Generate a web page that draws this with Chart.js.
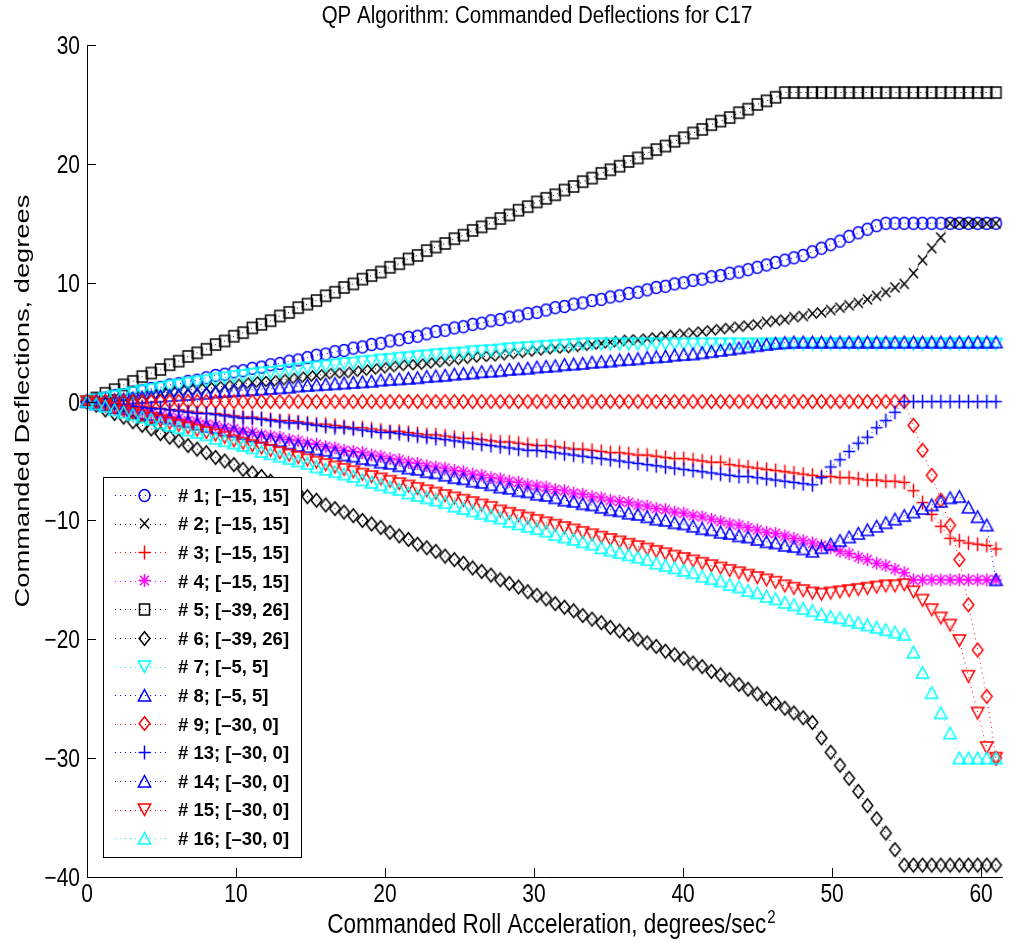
<!DOCTYPE html>
<html>
<head>
<meta charset="utf-8">
<title>QP Algorithm: Commanded Deflections for C17</title>
<script src="https://cdn.jsdelivr.net/npm/chart.js@4/dist/chart.umd.min.js"></script>
<style>
  html, body { margin: 0; padding: 0; background: #fff; }
  #wrap { width: 1009px; height: 943px; }
</style>
</head>
<body>
<div id="wrap"><canvas id="chart" width="1009" height="943"></canvas></div>
<script>
// commanded roll acceleration, degrees/sec^2
const rollAccel = [
  0, 0.62, 1.23, 1.85, 2.46, 3.08, 3.70, 4.31, 4.93, 5.55,
  6.16, 6.78, 7.39, 8.01, 8.63, 9.24, 9.86, 10.47, 11.09, 11.71,
  12.32, 12.94, 13.56, 14.17, 14.79, 15.40, 16.02, 16.64, 17.25, 17.87,
  18.48, 19.10, 19.72, 20.33, 20.95, 21.57, 22.18, 22.80, 23.41, 24.03,
  24.65, 25.26, 25.88, 26.49, 27.11, 27.73, 28.34, 28.96, 29.58, 30.19,
  30.81, 31.42, 32.04, 32.66, 33.27, 33.89, 34.51, 35.12, 35.74, 36.35,
  36.97, 37.59, 38.20, 38.82, 39.43, 40.05, 40.67, 41.28, 41.90, 42.52,
  43.13, 43.75, 44.36, 44.98, 45.60, 46.21, 46.83, 47.44, 48.06, 48.68,
  49.29, 49.91, 50.53, 51.14, 51.76, 52.37, 52.99, 53.61, 54.22, 54.84,
  55.46, 56.07, 56.69, 57.30, 57.92, 58.54, 59.15, 59.77, 60.38, 61.00
];

// commanded deflections, degrees (one list per effector)
const eff1 = [
  0, 0.2, 0.3, 0.5, 0.6, 0.8, 0.9, 1.1, 1.2, 1.4,
  1.5, 1.7, 1.8, 2.0, 2.2, 2.3, 2.5, 2.6, 2.8, 2.9,
  3.1, 3.2, 3.4, 3.5, 3.7, 3.9, 4.0, 4.2, 4.3, 4.5,
  4.6, 4.8, 4.9, 5.1, 5.2, 5.4, 5.5, 5.7, 5.9, 6.0,
  6.2, 6.3, 6.5, 6.6, 6.8, 6.9, 7.1, 7.2, 7.4, 7.5,
  7.7, 7.9, 8.0, 8.2, 8.3, 8.5, 8.6, 8.8, 8.9, 9.1,
  9.2, 9.4, 9.6, 9.7, 9.9, 10.0, 10.2, 10.3, 10.5, 10.6,
  10.8, 10.9, 11.1, 11.3, 11.5, 11.7, 11.9, 12.1, 12.3, 12.6,
  12.9, 13.2, 13.5, 13.9, 14.2, 14.5, 14.8, 15, 15, 15,
  15, 15, 15, 15, 15, 15, 15, 15, 15, 15
];
const eff2 = [
  0, 0.1, 0.2, 0.3, 0.3, 0.4, 0.5, 0.6, 0.7, 0.8,
  0.9, 1.0, 1.0, 1.1, 1.2, 1.3, 1.4, 1.5, 1.6, 1.7,
  1.7, 1.8, 1.9, 2.0, 2.1, 2.2, 2.3, 2.4, 2.4, 2.5,
  2.6, 2.7, 2.8, 2.9, 3.0, 3.1, 3.1, 3.2, 3.3, 3.4,
  3.5, 3.6, 3.7, 3.8, 3.8, 3.9, 4.0, 4.1, 4.2, 4.3,
  4.4, 4.5, 4.5, 4.6, 4.7, 4.8, 4.9, 5.0, 5.1, 5.2,
  5.2, 5.3, 5.4, 5.5, 5.6, 5.7, 5.8, 5.9, 6.0, 6.1,
  6.2, 6.3, 6.4, 6.5, 6.7, 6.8, 6.9, 7.1, 7.2, 7.4,
  7.5, 7.7, 7.9, 8.1, 8.3, 8.6, 8.9, 9.2, 9.6, 9.9,
  10.8, 11.9, 12.9, 13.8, 15, 15, 15, 15, 15, 15
];
const eff3 = [
  0, -0.1, -0.1, -0.2, -0.3, -0.4, -0.4, -0.5, -0.6, -0.7,
  -0.7, -0.8, -0.9, -1.0, -1.0, -1.1, -1.2, -1.3, -1.3, -1.4,
  -1.5, -1.6, -1.6, -1.7, -1.8, -1.9, -1.9, -2.0, -2.1, -2.2,
  -2.2, -2.3, -2.4, -2.5, -2.5, -2.6, -2.7, -2.8, -2.8, -2.9,
  -3.0, -3.1, -3.1, -3.2, -3.3, -3.4, -3.4, -3.5, -3.6, -3.7,
  -3.7, -3.8, -3.9, -4.0, -4.0, -4.1, -4.2, -4.3, -4.3, -4.4,
  -4.5, -4.5, -4.6, -4.7, -4.8, -4.8, -4.9, -5.0, -5.1, -5.1,
  -5.3, -5.4, -5.5, -5.6, -5.7, -5.8, -5.9, -6.0, -6.1, -6.2,
  -6.3, -6.3, -6.4, -6.4, -6.5, -6.6, -6.6, -6.7, -6.7, -6.8,
  -7.5, -8.5, -9.5, -10.5, -11.5, -11.7, -11.9, -12.0, -12.1, -12.4
];
const eff4 = [
  0, -0.1, -0.3, -0.4, -0.6, -0.7, -0.9, -1.0, -1.2, -1.3,
  -1.4, -1.6, -1.7, -1.9, -2.0, -2.2, -2.3, -2.5, -2.6, -2.8,
  -2.9, -3.0, -3.2, -3.3, -3.5, -3.6, -3.8, -3.9, -4.1, -4.2,
  -4.3, -4.5, -4.6, -4.8, -4.9, -5.1, -5.2, -5.4, -5.5, -5.6,
  -5.8, -5.9, -6.1, -6.2, -6.4, -6.5, -6.7, -6.8, -7.0, -7.1,
  -7.2, -7.4, -7.5, -7.7, -7.8, -8.0, -8.1, -8.3, -8.4, -8.5,
  -8.7, -8.8, -9.0, -9.1, -9.3, -9.4, -9.6, -9.7, -9.9, -10.1,
  -10.3, -10.4, -10.6, -10.8, -11.0, -11.1, -11.3, -11.5, -11.7, -11.9,
  -12.1, -12.3, -12.6, -12.8, -13.1, -13.3, -13.6, -13.8, -14.1, -14.4,
  -15, -15, -15, -15, -15, -15, -15, -15, -15, -15
];
const eff5 = [
  0, 0.3, 0.7, 1.0, 1.4, 1.7, 2.1, 2.4, 2.7, 3.1,
  3.4, 3.8, 4.1, 4.4, 4.8, 5.1, 5.5, 5.8, 6.2, 6.5,
  6.8, 7.2, 7.5, 7.9, 8.2, 8.5, 8.9, 9.2, 9.6, 9.9,
  10.3, 10.6, 10.9, 11.3, 11.6, 12.0, 12.3, 12.7, 13.0, 13.3,
  13.7, 14.0, 14.4, 14.7, 15.0, 15.4, 15.7, 16.1, 16.4, 16.8,
  17.1, 17.4, 17.8, 18.1, 18.5, 18.8, 19.2, 19.5, 19.8, 20.2,
  20.5, 20.9, 21.2, 21.5, 21.9, 22.2, 22.6, 22.9, 23.3, 23.6,
  23.9, 24.3, 24.6, 25.0, 25.3, 25.6, 26, 26, 26, 26,
  26, 26, 26, 26, 26, 26, 26, 26, 26, 26,
  26, 26, 26, 26, 26, 26, 26, 26, 26, 26
];
const eff6 = [
  0, -0.3, -0.7, -1.0, -1.3, -1.7, -2.0, -2.3, -2.7, -3.0,
  -3.3, -3.7, -4.0, -4.3, -4.7, -5.0, -5.3, -5.7, -6.0, -6.3,
  -6.7, -7.0, -7.3, -7.7, -8.0, -8.3, -8.7, -9.0, -9.3, -9.6,
  -10.0, -10.3, -10.6, -11.0, -11.3, -11.6, -12.0, -12.3, -12.6, -13.0,
  -13.3, -13.6, -14.0, -14.3, -14.6, -15.0, -15.3, -15.6, -16.0, -16.3,
  -16.6, -17.0, -17.3, -17.6, -18.0, -18.3, -18.6, -19.0, -19.3, -19.6,
  -20.0, -20.3, -20.6, -21.0, -21.3, -21.6, -22.0, -22.3, -22.7, -23.0,
  -23.4, -23.8, -24.2, -24.6, -25.0, -25.4, -25.8, -26.2, -26.6, -27.0,
  -28.3, -29.5, -30.6, -31.7, -32.8, -34.0, -35.1, -36.3, -37.7, -39,
  -39, -39, -39, -39, -39, -39, -39, -39, -39, -39
];
const eff7 = [
  0, 0.15, 0.3, 0.45, 0.6, 0.75, 0.9, 1.0, 1.15, 1.3,
  1.4, 1.55, 1.65, 1.75, 1.9, 2.0, 2.1, 2.2, 2.3, 2.4,
  2.45, 2.55, 2.65, 2.75, 2.85, 2.9, 3.0, 3.1, 3.2, 3.25,
  3.35, 3.4, 3.5, 3.55, 3.65, 3.7, 3.8, 3.85, 3.95, 4.0,
  4.05, 4.1, 4.2, 4.25, 4.3, 4.35, 4.45, 4.5, 4.55, 4.6,
  4.65, 4.7, 4.75, 4.8, 4.85, 4.85, 4.85, 4.85, 4.85, 4.85,
  4.85, 4.85, 4.85, 4.85, 4.85, 4.85, 4.85, 4.85, 4.85, 4.85,
  4.85, 4.85, 4.85, 4.85, 4.85, 4.85, 4.85, 4.85, 4.85, 4.85,
  4.85, 4.85, 4.85, 4.85, 4.85, 4.85, 4.85, 4.85, 4.85, 4.85,
  4.85, 4.85, 4.85, 4.85, 4.85, 4.85, 4.85, 4.85, 4.85, 4.85
];
const eff8 = [
  0, 0.05, 0.1, 0.15, 0.2, 0.3, 0.35, 0.4, 0.45, 0.5,
  0.55, 0.6, 0.65, 0.7, 0.8, 0.85, 0.9, 0.95, 1.0, 1.05,
  1.1, 1.15, 1.2, 1.3, 1.35, 1.4, 1.45, 1.5, 1.55, 1.6,
  1.65, 1.7, 1.8, 1.85, 1.9, 1.95, 2.0, 2.1, 2.15, 2.2,
  2.3, 2.35, 2.4, 2.5, 2.55, 2.6, 2.7, 2.75, 2.8, 2.9,
  2.95, 3.0, 3.1, 3.15, 3.2, 3.3, 3.35, 3.4, 3.5, 3.55,
  3.6, 3.7, 3.75, 3.8, 3.9, 3.95, 4.0, 4.1, 4.2, 4.3,
  4.4, 4.5, 4.6, 4.7, 4.8, 4.9, 4.95, 5, 5, 5,
  5, 5, 5, 5, 5, 5, 5, 5, 5, 5,
  5, 5, 5, 5, 5, 5, 5, 5, 5, 5
];
const eff9 = [
  0, 0, 0, 0, 0, 0, 0, 0, 0, 0,
  0, 0, 0, 0, 0, 0, 0, 0, 0, 0,
  0, 0, 0, 0, 0, 0, 0, 0, 0, 0,
  0, 0, 0, 0, 0, 0, 0, 0, 0, 0,
  0, 0, 0, 0, 0, 0, 0, 0, 0, 0,
  0, 0, 0, 0, 0, 0, 0, 0, 0, 0,
  0, 0, 0, 0, 0, 0, 0, 0, 0, 0,
  0, 0, 0, 0, 0, 0, 0, 0, 0, 0,
  0, 0, 0, 0, 0, 0, 0, 0, 0, 0,
  -2.0, -4.1, -6.2, -8.3, -10.4, -13.3, -17.1, -20.9, -24.8, -30
];
const eff13 = [
  0, -0.1, -0.2, -0.2, -0.3, -0.4, -0.5, -0.6, -0.6, -0.7,
  -0.8, -0.9, -1.0, -1.0, -1.1, -1.2, -1.3, -1.4, -1.4, -1.5,
  -1.6, -1.7, -1.8, -1.8, -1.9, -2.0, -2.1, -2.2, -2.2, -2.3,
  -2.4, -2.5, -2.6, -2.6, -2.7, -2.8, -2.9, -3.0, -3.1, -3.2,
  -3.3, -3.4, -3.5, -3.6, -3.7, -3.8, -3.9, -4.0, -4.1, -4.1,
  -4.2, -4.3, -4.4, -4.5, -4.6, -4.7, -4.8, -4.9, -5.0, -5.1,
  -5.2, -5.3, -5.4, -5.5, -5.6, -5.7, -5.8, -5.9, -6.0, -6.1,
  -6.2, -6.3, -6.3, -6.4, -6.5, -6.6, -6.7, -6.8, -6.9, -7.0,
  -6.4, -5.5, -4.9, -4.2, -3.5, -3.0, -2.2, -1.6, -0.9, 0,
  0, 0, 0, 0, 0, 0, 0, 0, 0, 0
];
const eff14 = [
  0, -0.2, -0.3, -0.5, -0.6, -0.8, -1.0, -1.1, -1.3, -1.4,
  -1.6, -1.7, -1.9, -2.1, -2.2, -2.4, -2.5, -2.7, -2.9, -3.0,
  -3.2, -3.3, -3.5, -3.7, -3.8, -4.0, -4.1, -4.3, -4.5, -4.6,
  -4.8, -4.9, -5.1, -5.2, -5.4, -5.6, -5.7, -5.9, -6.0, -6.2,
  -6.4, -6.5, -6.7, -6.8, -7.0, -7.2, -7.3, -7.5, -7.6, -7.8,
  -7.9, -8.1, -8.3, -8.4, -8.6, -8.7, -8.9, -9.1, -9.2, -9.4,
  -9.5, -9.7, -9.9, -10.0, -10.2, -10.3, -10.5, -10.7, -10.8, -11.0,
  -11.1, -11.3, -11.4, -11.6, -11.8, -11.9, -12.1, -12.2, -12.4, -12.6,
  -12.3, -12.0, -11.7, -11.4, -11.1, -10.8, -10.5, -10.2, -9.9, -9.6,
  -9.3, -9.0, -8.7, -8.4, -8.1, -8.0, -8.9, -9.7, -10.4, -15
];
const eff15 = [
  0, -0.2, -0.4, -0.6, -0.8, -1.0, -1.2, -1.4, -1.6, -1.8,
  -2.0, -2.2, -2.4, -2.6, -2.8, -3.0, -3.3, -3.5, -3.7, -3.9,
  -4.1, -4.3, -4.5, -4.7, -4.9, -5.1, -5.3, -5.5, -5.7, -5.9,
  -6.1, -6.3, -6.5, -6.7, -6.9, -7.1, -7.3, -7.5, -7.7, -7.9,
  -8.1, -8.3, -8.5, -8.7, -8.9, -9.2, -9.4, -9.6, -9.8, -10.0,
  -10.2, -10.4, -10.6, -10.8, -11.0, -11.2, -11.4, -11.6, -11.8, -12.0,
  -12.2, -12.4, -12.6, -12.8, -13.0, -13.2, -13.4, -13.6, -13.8, -14.0,
  -14.2, -14.4, -14.6, -14.8, -15.0, -15.2, -15.5, -15.7, -15.9, -16.1,
  -16.2, -16.1, -16.0, -15.9, -15.8, -15.7, -15.6, -15.5, -15.5, -15.4,
  -16.0, -16.7, -17.5, -18.2, -18.8, -20.1, -23.1, -26.2, -29.1, -30
];
const eff16 = [
  0, -0.2, -0.4, -0.7, -0.9, -1.1, -1.3, -1.5, -1.8, -2.0,
  -2.2, -2.4, -2.6, -2.8, -3.1, -3.3, -3.5, -3.7, -3.9, -4.2,
  -4.4, -4.6, -4.8, -5.0, -5.2, -5.5, -5.7, -5.9, -6.1, -6.3,
  -6.6, -6.8, -7.0, -7.2, -7.4, -7.7, -7.9, -8.1, -8.3, -8.5,
  -8.8, -9.0, -9.2, -9.4, -9.6, -9.8, -10.1, -10.3, -10.5, -10.7,
  -10.9, -11.2, -11.4, -11.6, -11.8, -12.0, -12.3, -12.5, -12.7, -12.9,
  -13.1, -13.3, -13.6, -13.8, -14.0, -14.2, -14.4, -14.7, -14.9, -15.1,
  -15.4, -15.6, -15.9, -16.1, -16.4, -16.6, -16.9, -17.1, -17.4, -17.6,
  -17.9, -18.1, -18.2, -18.4, -18.6, -18.8, -19.0, -19.2, -19.4, -19.6,
  -21.1, -22.8, -24.5, -26.2, -27.9, -30, -30, -30, -30, -30
];

const seriesLabels = [
  '# 1; [\u201315, 15]', '# 2; [\u201315, 15]', '# 3; [\u201315, 15]', '# 4; [\u201315, 15]',
  '# 5; [\u201339, 26]', '# 6; [\u201339, 26]', '# 7; [\u20135, 5]', '# 8; [\u20135, 5]',
  '# 9; [\u201330, 0]', '# 13; [\u201330, 0]', '# 14; [\u201330, 0]', '# 15; [\u201330, 0]',
  '# 16; [\u201330, 0]'
];
const seriesValues = [eff1, eff2, eff3, eff4, eff5, eff6, eff7, eff8, eff9, eff13, eff14, eff15, eff16];
const seriesColors = ['#0000ff', '#000000', '#ff0000', '#ff00ff', '#000000', '#000000', '#00ffff',
  '#0000ff', '#ff0000', '#0000ff', '#0000ff', '#ff0000', '#00ffff'];
const seriesMarkers = ['circle', 'x', 'plus', 'star', 'square', 'diamond', 'down',
  'up', 'diamond', 'plus', 'up', 'down', 'up'];

const xTicks = [0, 10, 20, 30, 40, 50, 60];
const yTicks = [-40, -30, -20, -10, 0, 10, 20, 30];

const FONT = '"Liberation Sans", Arial, Helvetica, sans-serif';

// matlab-ish marker drawn once into a small canvas, used as pointStyle
function makeMarker(kind, color) {
  const w = 17, h = 17;
  const c = document.createElement('canvas');
  c.width = w; c.height = h;
  const g = c.getContext('2d');
  g.strokeStyle = color;
  g.lineWidth = 1.5;
  const cx = w / 2, cy = h / 2;
  g.beginPath();
  switch (kind) {
    case 'circle':
      g.ellipse(cx, cy, 5.4, 6.0, 0, 0, Math.PI * 2);
      break;
    case 'square':
      g.rect(cx - 5, cy - 5.5, 10, 11);
      break;
    case 'diamond':
      g.moveTo(cx, cy - 6.8); g.lineTo(cx + 5.4, cy); g.lineTo(cx, cy + 6.8); g.lineTo(cx - 5.4, cy);
      g.closePath();
      break;
    case 'up':
      g.moveTo(cx, cy - 6); g.lineTo(cx + 6.2, cy + 5.6); g.lineTo(cx - 6.2, cy + 5.6);
      g.closePath();
      break;
    case 'down':
      g.moveTo(cx, cy + 6); g.lineTo(cx + 6.2, cy - 5.6); g.lineTo(cx - 6.2, cy - 5.6);
      g.closePath();
      break;
    case 'plus':
      g.moveTo(cx - 6, cy); g.lineTo(cx + 6, cy);
      g.moveTo(cx, cy - 7); g.lineTo(cx, cy + 7);
      break;
    case 'x':
      g.moveTo(cx - 4.6, cy - 5); g.lineTo(cx + 4.6, cy + 5);
      g.moveTo(cx + 4.6, cy - 5); g.lineTo(cx - 4.6, cy + 5);
      break;
    case 'star':
      g.moveTo(cx - 6, cy); g.lineTo(cx + 6, cy);
      g.moveTo(cx, cy - 6.5); g.lineTo(cx, cy + 6.5);
      g.moveTo(cx - 4.4, cy - 4.8); g.lineTo(cx + 4.4, cy + 4.8);
      g.moveTo(cx + 4.4, cy - 4.8); g.lineTo(cx - 4.4, cy + 4.8);
      break;
  }
  g.stroke();
  return c;
}

const markerImgs = seriesMarkers.map((m, i) => makeMarker(m, seriesColors[i]));

function stretchedText(ctx, text, x, y, font, align, sx, sy, rot) {
  ctx.save();
  ctx.translate(x, y);
  if (rot) ctx.rotate(rot);
  ctx.scale(sx, sy);
  ctx.font = font;
  ctx.textAlign = align;
  ctx.textBaseline = 'alphabetic';
  ctx.fillStyle = '#000';
  ctx.fillText(text, 0, 0);
  ctx.restore();
}

function tickText(v) {
  return v < 0 ? '\u2212' + Math.abs(v) : String(v);
}

// axes, ticks, labels and legend the way the original figure looks
const matlabLook = {
  id: 'matlabLook',
  afterDatasetsDraw(chart) {
    const { ctx, chartArea: a, scales } = chart;
    const xs = scales.x, ys = scales.y;
    ctx.save();
    ctx.strokeStyle = '#000';
    ctx.lineWidth = 1;
    ctx.setLineDash([]);
    ctx.beginPath();
    ctx.moveTo(a.left + 0.5, a.top);
    ctx.lineTo(a.left + 0.5, a.bottom + 0.5);
    ctx.lineTo(a.right, a.bottom + 0.5);
    yTicks.forEach(v => {
      const py = Math.round(ys.getPixelForValue(v)) + 0.5;
      ctx.moveTo(a.left, py);
      ctx.lineTo(a.left + 9, py);
    });
    xTicks.forEach(v => {
      const px = Math.round(xs.getPixelForValue(v)) + 0.5;
      ctx.moveTo(px, a.bottom);
      ctx.lineTo(px, a.bottom - 9);
    });
    ctx.stroke();

    const tickFont = '21px ' + FONT;
    yTicks.forEach(v => {
      stretchedText(ctx, tickText(v), 80, ys.getPixelForValue(v) + 9, tickFont, 'right', 1, 1.2);
    });
    xTicks.forEach(v => {
      stretchedText(ctx, tickText(v), xs.getPixelForValue(v), 902, tickFont, 'center', 1, 1.2);
    });

    // title
    stretchedText(ctx, 'QP Algorithm: Commanded Deflections for C17', 537, 23,
      '20.5px ' + FONT, 'center', 1, 1.15);

    // x label with superscript
    const xl = 'Commanded Roll Acceleration, degrees/sec';
    ctx.font = '22.5px ' + FONT;
    const wMain = ctx.measureText(xl).width;
    ctx.font = '15px ' + FONT;
    const wSup = ctx.measureText('2').width;
    const x0 = 551 - (wMain + wSup) / 2;
    stretchedText(ctx, xl, x0, 933, '22.5px ' + FONT, 'left', 1, 1.2);
    stretchedText(ctx, '2', x0 + wMain + 1, 923, '15px ' + FONT, 'left', 1, 1.2);

    // y label
    stretchedText(ctx, 'Commanded Deflections, degrees', 29, 401, '21px ' + FONT, 'center', 1.3, 1, -Math.PI / 2);

    // legend
    const lx = 103.5, ly = 477.5, lw = 198, lh = 380;
    ctx.fillStyle = '#fff';
    ctx.fillRect(lx, ly, lw, lh);
    ctx.strokeStyle = '#000';
    ctx.lineWidth = 1;
    ctx.strokeRect(lx, ly, lw, lh);
    seriesLabels.forEach((lab, i) => {
      const ry = 495 + i * 28.6;
      ctx.save();
      ctx.strokeStyle = seriesColors[i];
      ctx.lineWidth = 1;
      ctx.setLineDash([1, 4]);
      ctx.beginPath();
      ctx.moveTo(115, Math.round(ry) + 0.5);
      ctx.lineTo(168, Math.round(ry) + 0.5);
      ctx.stroke();
      ctx.restore();
      const img = markerImgs[i];
      ctx.drawImage(img, Math.round(144 - img.width / 2), Math.round(ry - img.height / 2));
      ctx.font = 'bold 18.5px ' + FONT;
      ctx.fillStyle = '#000';
      ctx.textAlign = 'left';
      ctx.textBaseline = 'alphabetic';
      ctx.fillText(lab, 178, ry + 6.7);
    });
    ctx.restore();
  }
};

const datasets = seriesValues.map((vals, i) => ({
  label: seriesLabels[i],
  data: rollAccel.map((x, k) => ({ x: x, y: vals[k] })),
  showLine: true,
  borderColor: seriesColors[i],
  backgroundColor: 'rgba(0,0,0,0)',
  borderWidth: 1,
  borderDash: [1, 4],
  pointStyle: markerImgs[i],
  pointRadius: 5,
  pointHoverRadius: 5,
  tension: 0,
  clip: false,
  order: seriesValues.length - i
}));

new Chart(document.getElementById('chart'), {
  type: 'scatter',
  data: { datasets: datasets },
  options: {
    responsive: false,
    animation: false,
    devicePixelRatio: 1,
    events: [],
    layout: { padding: { left: 87, right: 0, top: 45, bottom: 66 } },
    scales: {
      x: { type: 'linear', display: false, min: 0, max: 61.47 },
      y: { type: 'linear', display: false, min: -40, max: 30 }
    },
    plugins: {
      legend: { display: false },
      title: { display: false },
      tooltip: { enabled: false }
    }
  },
  plugins: [matlabLook]
});
</script>
</body>
</html>
